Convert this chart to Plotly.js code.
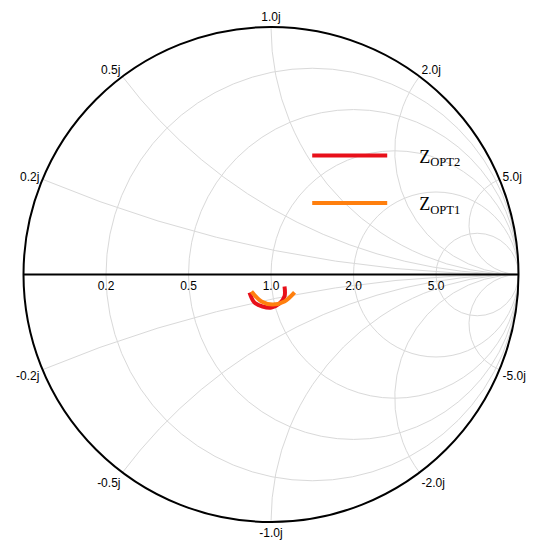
<!DOCTYPE html>
<html>
<head>
<meta charset="utf-8">
<script src="https://cdn.plot.ly/plotly-3.0.1.min.js"></script>
<style>
  body { margin: 0; background: #fff; }
  #chart { width: 537px; height: 550px; }
</style>
</head>
<body>
<div id="chart"></div>
<script>
var opt2Real = [0.832, 0.854, 0.904, 0.969, 1.041, 1.097, 1.110];
var opt2Imag = [-0.123, -0.197, -0.238, -0.263, -0.248, -0.197, -0.108];
var opt1Real = [0.846, 0.905, 0.983, 1.087, 1.196];
var opt1Imag = [-0.118, -0.200, -0.242, -0.241, -0.176];

var realTicks = [0.2, 0.5, 1.0, 2.0, 5.0];
var imagTicks = [-5, -2, -1, -0.5, -0.2, 0.2, 0.5, 1, 2, 5];

var cOpt2 = '#e8101a';
var cOpt1 = '#ff7f0e';
var cGrid = '#d9d9d9';
var pad = '\u00a0\u00a0\u00a0\u00a0\u00a0\u00a0';

var data = [
  {type: 'scattersmith', real: opt2Real, imag: opt2Imag, mode: 'lines',
   name: pad + 'Z<sub>OPT2</sub>', legendgroup: 'a',
   line: {color: cOpt2, width: 4, shape: 'spline'}},
  {type: 'scattersmith', real: opt1Real, imag: opt1Imag, mode: 'lines',
   name: pad + 'Z<sub>OPT1</sub>', legendgroup: 'b',
   line: {color: cOpt1, width: 4, shape: 'spline'}}
];

var layout = {
  width: 537, height: 550,
  margin: {l: 23, r: 18, t: 27, b: 28},
  paper_bgcolor: '#fff',
  font: {family: 'Liberation Sans, Arial', size: 12, color: '#000'},
  smith: {
    bgcolor: '#fff',
    realaxis: {
      tickvals: realTicks, tickformat: '.1f', tickangle: 0,
      side: 'bottom', ticks: '', showline: true, linecolor: '#000', linewidth: 2,
      gridcolor: cGrid, gridwidth: 1
    },
    imaginaryaxis: {
      tickvals: imagTicks, ticks: '', showline: true, linecolor: '#000', linewidth: 2,
      gridcolor: cGrid, gridwidth: 1, tickformat: '.1f', ticksuffix: 'j'
    }
  },
  showlegend: true,
  legend: {
    x: 0.573, y: 0.777, xanchor: 'left', yanchor: 'top',
    bgcolor: 'rgba(0,0,0,0)', itemwidth: 75, tracegroupgap: 21,
    font: {family: 'Liberation Serif, Times New Roman', size: 18, color: '#000'}
  }
};

Plotly.newPlot('chart', data, layout, {displayModeBar: false}).then(function (gd) {
  // the reference has no infinity label and uses plain hyphens
  gd.querySelectorAll('text').forEach(function (t) {
    if (t.textContent === '\u221e') t.remove();
    else if (t.textContent.indexOf('\u2212') === 0) t.textContent = t.textContent.replace('\u2212', '-');
  });
});
</script>
</body>
</html>
